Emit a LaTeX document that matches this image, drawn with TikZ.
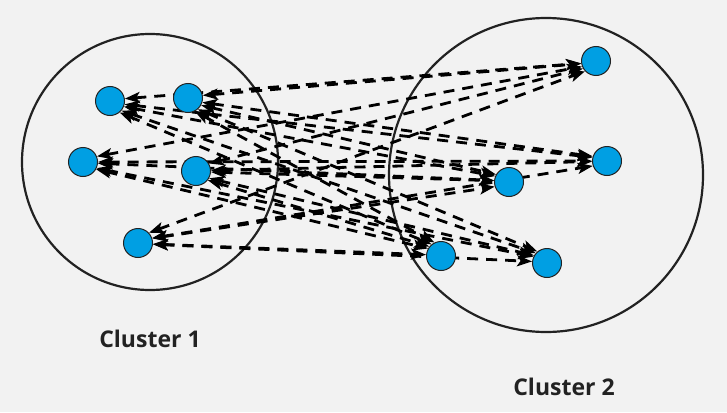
\documentclass[tikz,border=0pt]{standalone}
\usepackage{fontspec}
\setmainfont{Open Sans}
\usetikzlibrary{arrows.meta}
\pgfdeclarelayer{back}
\pgfdeclarelayer{edges}
\pgfsetlayers{back,edges,main}
\definecolor{bgc}{HTML}{F2F2F2}
\definecolor{nodeblue}{HTML}{009FE3}
\definecolor{ink}{HTML}{222222}
\def\clusterone{a1/110/101,a2/188/98,a3/83/162,a4/196/171,a5/138/243}
\def\clustertwo{b1/596/61,b2/607/161,b3/509/182,b4/441/256,b5/547/263}
\begin{document}
\begin{tikzpicture}[x=1pt,y=-1pt,
  dot/.style={circle,minimum size=29pt,inner sep=0pt,draw=ink,line width=1pt,fill=nodeblue},
  cluster/.style={circle,draw=ink,line width=2.2pt,inner sep=0pt},
  link/.style={draw=black,line width=2.8pt,dash pattern=on 11pt off 8pt,
    {Stealth[length=15pt,width=11pt,inset=3.5pt]}-{Stealth[length=15pt,width=11pt,inset=3.5pt]}},
  lbl/.style={font=\bfseries\fontsize{23}{28}\selectfont,text=ink}]
\begin{pgfonlayer}{back}
\fill[bgc] (0,0) rectangle (727,412);
\node[cluster,minimum size=256pt] (c1) at (150,162) {};
\node[cluster,minimum size=314pt] (c2) at (546,175) {};
\end{pgfonlayer}
\useasboundingbox (0,0) rectangle (727,412);
\foreach \n/\px/\py in \clusterone {\node[dot] (\n) at (\px,\py) {};}
\foreach \n/\px/\py in \clustertwo {\node[dot] (\n) at (\px,\py) {};}
\begin{pgfonlayer}{edges}
\foreach \a/\ax/\ay in \clusterone{
  \foreach \b/\bx/\by in \clustertwo{
    \pgfmathsetmacro\ang{atan2(\ay-\by,\bx-\ax)}
    \pgfmathtruncatemacro\ea{2*\ang}
    \pgfmathtruncatemacro\eb{180+2*\ang}
    \draw[link] (\a.\ea) -- (\b.\eb);
  }
}
\end{pgfonlayer}
\node[lbl] (l1) at (150,339) {Cluster 1};
\node[lbl] (l2) at (564,387) {Cluster 2};
\end{tikzpicture}
\end{document}
